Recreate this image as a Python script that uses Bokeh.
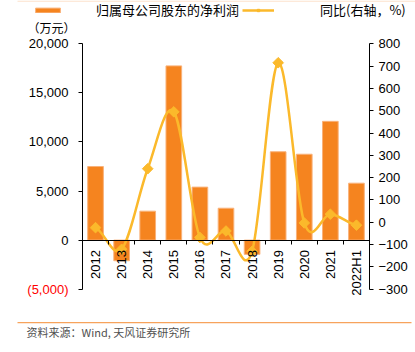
import numpy as np
from bokeh.plotting import figure
from bokeh.models import (Range1d, LinearAxis, FixedTicker, NumeralTickFormatter, Label,
                          BoxAnnotation, Legend, LegendItem, ColumnDataSource)
from bokeh.embed import file_html
from bokeh.resources import INLINE

# ---- data ----
categories = ["2012", "2013", "2014", "2015", "2016", "2017", "2018", "2019", "2020", "2021", "2022H1"]
net_profit = [7500, -2100, 2950, 17750, 5400, 3250, -1450, 9000, 8750, 12100, 5800]   # 万元
yoy_pct = [-24, -121, 240, 495, -68, -39, -130, 715, -3, 36, -13]                     # %
left_ticks = [-5000, 0, 5000, 10000, 15000, 20000]
right_ticks = [-300, -200, -100, 0, 100, 200, 300, 400, 500, 600, 700, 800]
bar_label = "归属母公司股东的净利润"
line_label = "同比(右轴，%)"
unit_label = "（万元）"
source_note = "资料来源：Wind, 天风证券研究所"

BAR = "#F5841F"
LINE = "#FBB92B"
NUM_FONT = "Liberation Sans"
CJK_FONT = "Noto Sans CJK SC"

# ---- layout (pixels) ----
W, H = 415, 352
F_LEFT, F_RIGHT, F_TOP, F_BOTTOM = 82.0, 369.0, 43.3, 288.7
L_MIN, L_MAX = left_ticks[0], left_ticks[-1]
R_MIN, R_MAX = right_ticks[0], right_ticks[-1]

n = len(categories)
centers = [i + 0.5 for i in range(n)]
bounds = [float(i) for i in range(n + 1)]

kx = (F_RIGHT - F_LEFT) / n
x_start, x_end = -F_LEFT / kx, n + (W - F_RIGHT) / kx
ky = (F_BOTTOM - F_TOP) / (L_MAX - L_MIN)
y_start, y_end = L_MIN - (H - F_BOTTOM) / ky, L_MAX + F_TOP / ky
kr = (F_BOTTOM - F_TOP) / (R_MAX - R_MIN)
r_start, r_end = R_MIN - (H - F_BOTTOM) / kr, R_MAX + F_TOP / kr


def xd(px):
    return x_start + px / kx


def yd(py):
    return y_end - py / ky


p = figure(width=W, height=H, output_backend="svg", toolbar_location=None,
           x_range=Range1d(x_start, x_end), y_range=Range1d(y_start, y_end),
           x_axis_location=None, y_axis_location=None,
           min_border=0, min_border_left=0, min_border_right=0,
           min_border_top=0, min_border_bottom=0)
p.extra_y_ranges = {"pct": Range1d(r_start, r_end)}
p.xgrid.visible = False
p.ygrid.visible = False
p.outline_line_color = None
p.background_fill_color = "white"
p.border_fill_color = "white"


def style_axis(ax, standoff):
    ax.axis_line_color = "#000000"
    ax.major_tick_line_color = "#000000"
    ax.major_tick_out = 4
    ax.major_tick_in = 0
    ax.minor_tick_line_color = None
    ax.major_label_standoff = standoff
    ax.major_label_text_font = NUM_FONT
    ax.major_label_text_font_size = "13px"
    ax.major_label_text_color = "#000000"


# left axis
la = LinearAxis(fixed_location=0, bounds=(L_MIN, L_MAX), ticker=FixedTicker(ticks=left_ticks),
                formatter=NumeralTickFormatter(format="0,0"))
la.major_label_overrides = {L_MIN: " "}
style_axis(la, 10)
p.add_layout(la, "left")

# right axis
ra = LinearAxis(fixed_location=n, y_range_name="pct", bounds=(R_MIN, R_MAX),
                ticker=FixedTicker(ticks=right_ticks))
style_axis(ra, 5)
p.add_layout(ra, "right")

# bars
src = ColumnDataSource(dict(x=centers, top=net_profit, cat=categories))
bars = p.vbar(x="x", top="top", bottom=0, width=0.6, source=src,
              fill_color=BAR, line_color="#F9B27A", line_width=1)

# smoothed line (Catmull-Rom as cubic Bezier through the data points)
xs = np.array(centers)
ys = np.array(yoy_pct, dtype=float)
xp = np.concatenate([[2 * xs[0] - xs[1]], xs, [2 * xs[-1] - xs[-2]]])
yp = np.concatenate([[ys[0]], ys, [ys[-1]]])
t = 1.0 / 6.0
seg = dict(x0=[], y0=[], x1=[], y1=[], cx0=[], cy0=[], cx1=[], cy1=[])
for i in range(1, n):
    P0x, P0y = xp[i - 1], yp[i - 1]
    P1x, P1y = xp[i], yp[i]
    P2x, P2y = xp[i + 1], yp[i + 1]
    P3x, P3y = xp[i + 2], yp[i + 2]
    seg["x0"].append(P1x); seg["y0"].append(P1y)
    seg["x1"].append(P2x); seg["y1"].append(P2y)
    seg["cx0"].append(P1x + (P2x - P0x) * t); seg["cy0"].append(P1y + (P2y - P0y) * t)
    seg["cx1"].append(P2x - (P3x - P1x) * t); seg["cy1"].append(P2y - (P3y - P1y) * t)
curve = p.bezier(source=ColumnDataSource(seg), x0="x0", y0="y0", x1="x1", y1="y1",
                 cx0="cx0", cy0="cy0", cx1="cx1", cy1="cy1",
                 line_color=LINE, line_width=2.5, y_range_name="pct")
line_src = ColumnDataSource(dict(x=centers, y=yoy_pct))
legend_line = p.line(x="x", y="y", source=line_src, line_color=LINE, line_width=2.5,
                     y_range_name="pct", visible=False)
pts = p.scatter(x="x", y="y", source=line_src, marker="square", angle=np.pi / 4, size=7.5,
                fill_color=LINE, line_color=LINE, y_range_name="pct")

# category axis sitting on the zero line
xa = LinearAxis(fixed_location=0, bounds=(0, n),
                ticker=FixedTicker(ticks=centers, minor_ticks=bounds))
xa.major_label_overrides = {c: cat for c, cat in zip(centers, categories)}
xa.major_label_orientation = np.pi / 2
xa.axis_line_color = "#000000"
xa.major_tick_line_color = None
xa.major_tick_out = 0
xa.major_tick_in = 0
xa.minor_tick_line_color = "#000000"
xa.minor_tick_out = 4
xa.minor_tick_in = 0
xa.major_label_standoff = 6
xa.major_label_text_font = NUM_FONT
xa.major_label_text_font_size = "13px"
xa.major_label_text_color = "#000000"
p.add_layout(xa, "below")

# red negative tick label
p.add_layout(Label(x=0, y=L_MIN, x_offset=-14, text="(5,000)", text_align="right",
                   text_baseline="middle", text_color="#FF0000", text_font=NUM_FONT,
                   text_font_size="13px"))

# unit label
p.add_layout(Label(x=xd(27), y=yd(27), text=unit_label,
                   text_align="left", text_baseline="middle", text_color="#000000",
                   text_font=CJK_FONT, text_font_size="12px"))

# legends
leg_common = dict(padding=0, margin=0, spacing=0, border_line_alpha=0, background_fill_alpha=0,
                  glyph_height=6, label_height=12,
                  label_text_font=CJK_FONT, label_text_font_size="13px",
                  label_text_color="#000000")
leg1 = Legend(items=[LegendItem(label=bar_label, renderers=[bars])],
              location=(32, H - 19), glyph_width=31, label_standoff=33, **leg_common)
leg2 = Legend(items=[LegendItem(label=line_label, renderers=[legend_line, pts])],
              location=(242, H - 19), glyph_width=32, label_standoff=46, **leg_common)
p.add_layout(leg1, "center")
p.add_layout(leg2, "center")

# top hairline, footer rule and source
p.add_layout(BoxAnnotation(left=xd(17), right=xd(W), top=yd(0), bottom=yd(1.2),
                           fill_color="#FCE2CC", fill_alpha=1, line_color=None))
p.add_layout(BoxAnnotation(left=xd(17), right=xd(411), top=yd(321.5), bottom=yd(322.7),
                           fill_color="#F7A35C", fill_alpha=1, line_color=None))
p.add_layout(Label(x=xd(26), y=yd(331), text=source_note,
                   text_align="left", text_baseline="middle", text_color="#505050",
                   text_font=CJK_FONT, text_font_size="11px"))

open("out.html", "w").write(file_html(p, INLINE))
